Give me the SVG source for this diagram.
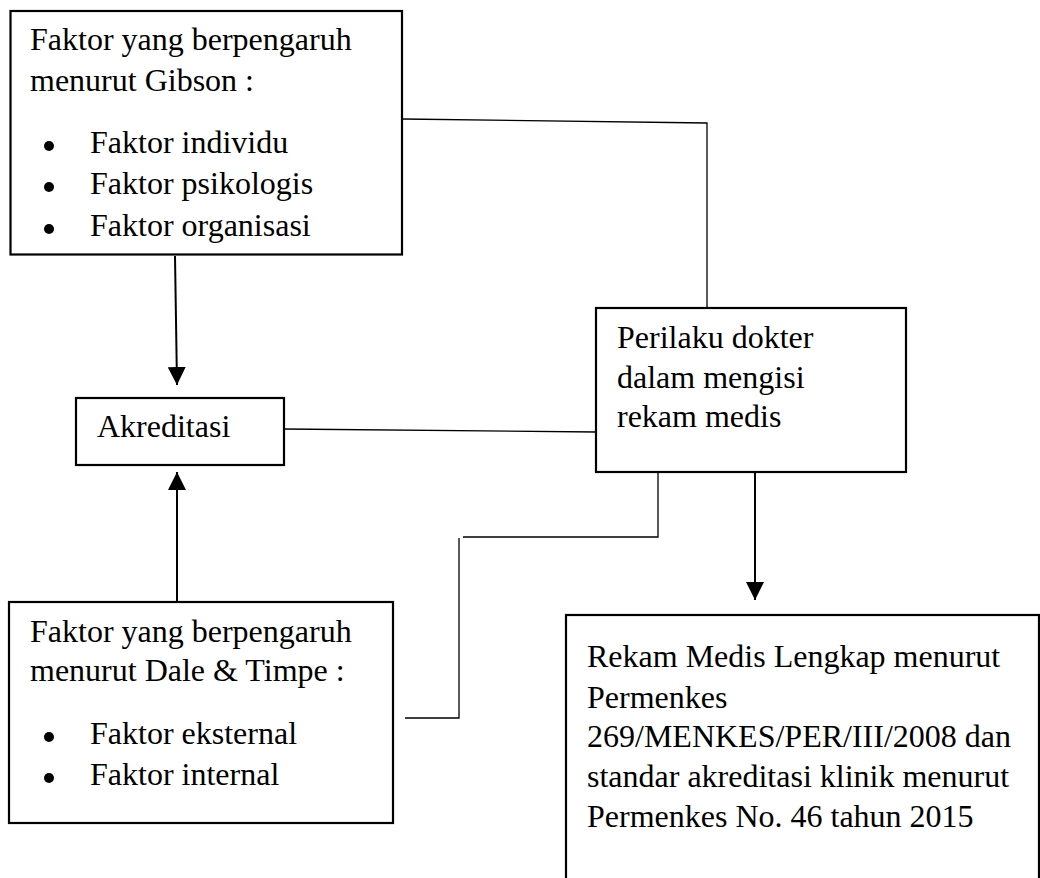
<svg xmlns="http://www.w3.org/2000/svg" width="1040" height="878" viewBox="0 0 1040 878">
<style>
.box{fill:#fff;stroke:#000;stroke-width:2.2}
.t{font-family:"Liberation Serif","Times New Roman",serif;font-size:32px;fill:#000}
.c{fill:none;stroke:#000;stroke-width:1.3}
.a{fill:none;stroke:#000;stroke-width:2}
</style>
<defs>
<marker id="ah" markerUnits="userSpaceOnUse" markerWidth="18" markerHeight="18" viewBox="0 0 16 16" refX="16" refY="8" orient="auto">
<path d="M0,0 L16,8 L0,16 Z" fill="#000"/>
</marker>
</defs>
<rect x="0" y="0" width="1040" height="878" fill="#fff"/>
<g id="connectors">
<polyline class="c" points="403,119 707,123 707,308"/>
<line class="c" x1="284" y1="429" x2="596" y2="432"/>
<polyline class="c" points="658,472 658,537 463,537"/>
<polyline class="c" points="459,538 459,718 405,718"/>
<line class="a" x1="175" y1="256" x2="177" y2="385" marker-end="url(#ah)"/>
<line class="a" x1="177" y1="602" x2="177" y2="472" marker-end="url(#ah)"/>
<line class="a" x1="755" y1="472" x2="755" y2="600" marker-end="url(#ah)"/>
</g>
<g id="gibson">
<rect class="box" x="10.5" y="11" width="391.5" height="243.5"/>
<text class="t" x="30" y="50">Faktor yang berpengaruh</text>
<text class="t" x="30" y="91">menurut Gibson :</text>
<circle cx="49" cy="146" r="5"/>
<circle cx="49" cy="187" r="5"/>
<circle cx="49" cy="229" r="5"/>
<text class="t" x="90" y="153">Faktor individu</text>
<text class="t" x="90" y="194">Faktor psikologis</text>
<text class="t" x="90" y="236">Faktor organisasi</text>
</g>
<g id="akreditasi">
<rect class="box" x="76" y="398" width="208" height="67"/>
<text class="t" x="97" y="437">Akreditasi</text>
</g>
<g id="perilaku">
<rect class="box" x="596" y="308" width="310" height="164"/>
<text class="t" x="617" y="348">Perilaku dokter</text>
<text class="t" x="617" y="388">dalam mengisi</text>
<text class="t" x="617" y="427">rekam medis</text>
</g>
<g id="dale">
<rect class="box" x="9" y="602" width="384" height="221"/>
<text class="t" x="30" y="642">Faktor yang berpengaruh</text>
<text class="t" x="30" y="681">menurut Dale &amp; Timpe :</text>
<circle cx="49" cy="737" r="5"/>
<circle cx="49" cy="778" r="5"/>
<text class="t" x="90" y="744">Faktor eksternal</text>
<text class="t" x="90" y="785">Faktor internal</text>
</g>
<g id="rekam">
<rect class="box" x="566" y="615" width="473" height="300"/>
<text class="t" x="587" y="667">Rekam Medis Lengkap menurut</text>
<text class="t" x="587" y="708">Permenkes</text>
<text class="t" x="587" y="747">269/MENKES/PER/III/2008 dan</text>
<text class="t" x="587" y="787">standar akreditasi klinik menurut</text>
<text class="t" x="587" y="827">Permenkes No. 46 tahun 2015</text>
</g>
</svg>
